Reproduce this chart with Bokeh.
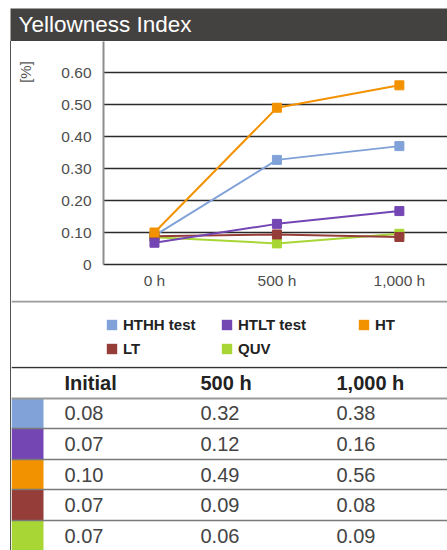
import math
import numpy as np
from bokeh.plotting import figure
from bokeh.models import (Range1d, FixedTicker, PrintfTickFormatter, Label, Legend,
                          LegendItem, Spacer, ColumnDataSource)
from bokeh.layouts import column, row
from bokeh.embed import file_html
from bokeh.resources import INLINE
from bokeh.core.properties import value

# ---------------- data ----------------
TITLE = "Yellowness Index"
Y_LABEL = "[%]"
times = ["0 h", "500 h", "1,000 h"]
series = ["HTHH test", "HTLT test", "HT", "LT", "QUV"]
colors = ["#80a2d8", "#7446b4", "#f39200", "#953d39", "#a8d634"]

# values as plotted in the chart
hthh = [0.09, 0.327, 0.37]
htlt = [0.068, 0.127, 0.167]
ht = [0.10, 0.49, 0.56]
lt = [0.088, 0.094, 0.086]
quv = [0.085, 0.066, 0.096]

# values as printed in the table
table_cols = ["Initial", "500 h", "1,000 h"]
tbl_initial = [0.08, 0.07, 0.10, 0.07, 0.07]
tbl_500 = [0.32, 0.12, 0.49, 0.09, 0.06]
tbl_1000 = [0.38, 0.16, 0.56, 0.08, 0.09]

y_ticks = [0, 0.1, 0.2, 0.3, 0.4, 0.5, 0.6]

# ---------------- style ----------------
FONT = "Liberation Sans"
HDR = "#434240"
GRID = "#2a2a2a"
LEFT = 10   # white space left of the panel
TOPM = 8    # white space above the panel
CW = 436    # content width
LABW = 40   # width of the strip holding the unit label
CH = 259    # chart height

common = dict(output_backend="svg", toolbar_location=None, frame_align=False)


def blank(width, height, **kw):
    f = figure(width=width, height=height, x_range=Range1d(0, 1), y_range=Range1d(0, 1),
               x_axis_location=None, y_axis_location=None, min_border=0,
               outline_line_color=None, **kw, **common)
    f.xgrid.visible = False
    f.ygrid.visible = False
    return f


# ---------------- header ----------------
hdr = blank(CW + 1, 33, background_fill_color=HDR, border_fill_color=HDR)
hdr.add_layout(Label(x=8, y=17, x_units="screen", y_units="screen", text=TITLE,
                     text_color="white", text_font=FONT, text_font_size="22.5px",
                     text_baseline="middle"))

# ---------------- unit label strip ----------------
lab = blank(LABW, CH)
lab.add_layout(Label(x=14, y=CH - 30.5, x_units="screen", y_units="screen", text=Y_LABEL,
                     angle=math.pi / 2, text_align="center", text_baseline="middle",
                     text_font=FONT, text_font_size="15px", text_color="#555555"))

# ---------------- chart ----------------
X0, X1 = -0.4163, 2.393
p = figure(width=CW - LABW, height=CH, x_range=Range1d(X0, X1), y_range=Range1d(0, 0.697),
           min_border_left=92 - LABW, min_border_right=0, min_border_top=0, min_border_bottom=36,
           outline_line_color=None, **common)
p.xgrid.visible = False
p.ygrid.ticker = FixedTicker(ticks=y_ticks)
p.ygrid.grid_line_color = GRID
p.ygrid.grid_line_width = 1.3

p.xaxis.ticker = FixedTicker(ticks=list(range(len(times))))
p.xaxis.major_label_overrides = {i: t for i, t in enumerate(times)}
p.xaxis.axis_line_color = GRID
p.xaxis.axis_line_width = 1.5
p.xaxis.major_label_standoff = 7

p.yaxis.ticker = FixedTicker(ticks=y_ticks)
p.yaxis.formatter = PrintfTickFormatter(format="%.2f")
p.yaxis.major_label_overrides = {0: "0"}
p.yaxis.axis_line_color = "#8c8c8c"
p.yaxis.axis_line_width = 2
p.yaxis.major_label_standoff = 12

for ax in (p.xaxis, p.yaxis):
    ax.major_tick_line_color = None
    ax.minor_tick_line_color = None
    ax.major_tick_out = 0
    ax.major_tick_in = 0
    ax.major_label_text_font = FONT
    ax.major_label_text_font_size = "15.5px"
    ax.major_label_text_color = "#4d4d4d"

vals = [hthh, htlt, ht, lt, quv]
xs = list(range(len(times)))
for i in [0, 4, 3, 1, 2]:
    src = ColumnDataSource(dict(x=xs, y=vals[i]))
    p.line("x", "y", source=src, line_color=colors[i], line_width=2)
    p.scatter("x", "y", source=src, marker="square", size=9,
              fill_color=colors[i], line_color=colors[i])

# ---------------- legend ----------------
LH = 66
lg = figure(width=CW, height=LH, x_range=Range1d(0, 1), y_range=Range1d(0, LH),
            x_axis_location=None, y_axis_location=None, min_border=0,
            outline_line_color=None, **common)
lg.xgrid.visible = False
lg.ygrid.visible = False
lg.hspan(y=[LH - 1], line_color="#9a9a9a", line_width=2)
leg_r = [lg.quad(left=[np.nan], right=[np.nan], top=[np.nan], bottom=[np.nan],
                 fill_color=c, line_color=None) for c in colors]
groups = [[0, 3], [1, 4], [2]]
gx = [94, 209, 346]
ITEM_H, GAP, TOP = 20, 4, 14.3
for grp, x in zip(groups, gx):
    n = len(grp)
    h = n * ITEM_H + (n - 1) * GAP
    leg = Legend(items=[LegendItem(label=value(series[i]), renderers=[leg_r[i]]) for i in grp],
                 location=(x, LH - TOP - h), orientation="vertical", glyph_width=13, glyph_height=13,
                 label_standoff=5, spacing=GAP, label_height=ITEM_H, padding=0, margin=0,
                 border_line_color=None, background_fill_alpha=0,
                 label_text_font=FONT, label_text_font_size="15px",
                 label_text_font_style="bold", label_text_color="#222222")
    lg.add_layout(leg)

# ---------------- table ----------------
COL_X = [53, 189, 325]
SW_W = 32
TH = 184
RH = 30.6
tb = figure(width=CW, height=TH, x_range=Range1d(0, CW),
            y_range=Range1d(-0.5 + (TH - 1) / RH, -0.5 - 1 / RH),
            x_axis_location=None, y_axis_location=None, min_border=0,
            outline_line_color=None, **common)
tb.xgrid.visible = False
tb.ygrid.visible = False
rows = np.arange(1, len(series) + 1)
tb.quad(left=0, right=SW_W, top=rows - 0.5, bottom=rows + 0.5, fill_color=colors, line_color=None)
tb.hspan(y=[-0.5], line_color="#333333", line_width=1.3)
tb.hspan(y=[0.5], line_color="#999999", line_width=2)
tb.hspan(y=list(rows[:-1] + 0.5), line_color="#7a7a7a", line_width=1.5)
tb.text(x=COL_X, y=[0] * len(table_cols), text=table_cols, text_font=value(FONT),
        text_font_size="20px", text_font_style="bold", text_color="#222222",
        text_baseline="middle", text_align="left")
for j, col in enumerate([tbl_initial, tbl_500, tbl_1000]):
    tb.text(x=[COL_X[j]] * len(col), y=rows, text=[f"{v:.2f}" for v in col],
            text_font=value(FONT), text_font_size="20px", text_color="#444444",
            text_baseline="middle", text_align="left")

# ---------------- layout ----------------
BODY_H = CH + LH + TH
vline = Spacer(width=1, height=BODY_H, styles={"background-color": "#555555"})
layout = column(
    Spacer(width=LEFT + CW + 1, height=TOPM),
    row(Spacer(width=LEFT, height=33), hdr),
    row(Spacer(width=LEFT, height=BODY_H), vline, column(row(lab, p), lg, tb)),
)

open("out.html", "w").write(file_html(layout, INLINE))
